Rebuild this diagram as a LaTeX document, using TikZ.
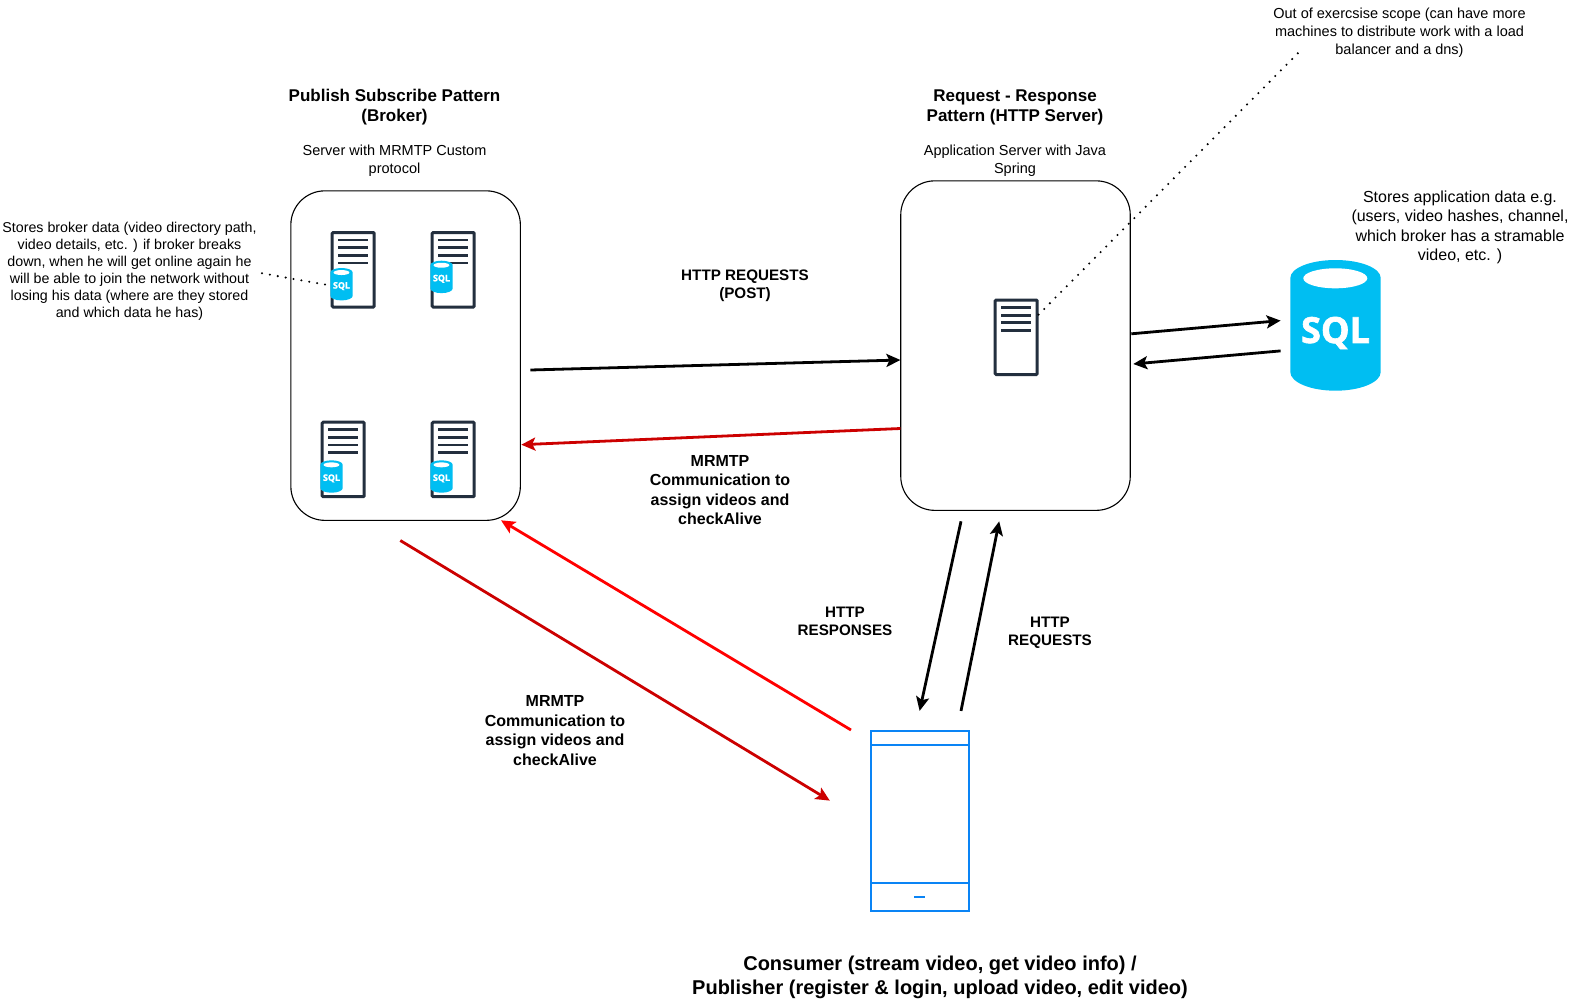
\documentclass[tikz,border=0pt]{standalone}
\usepackage{fontspec}
\setmainfont{Liberation Sans}
\newfontfamily\sqlfont[BoldFeatures={FakeBold=1.8}]{Open Sans}
\usetikzlibrary{arrows.meta}
\definecolor{srvcol}{HTML}{232F3E}
\definecolor{sqlcol}{HTML}{00BEF2}
\definecolor{phonecol}{HTML}{0A84F5}
\definecolor{darkred}{HTML}{CC0000}
\tikzset{
  panel/.style={draw=black,line width=1.1pt,rounded corners=34pt,minimum width=229.5pt,minimum height=329.5pt,inner sep=0pt},
  srvbody/.style={draw=srvcol,line width=3pt,rounded corners=1pt,fill=white,minimum width=42pt,minimum height=74.5pt,inner sep=0pt},
  srvline/.style={draw=srvcol,line width=2.7pt},
  phonepart/.style={draw=phonecol,line width=2.2pt},
  conn/.style={line width=2.8pt,-{Stealth[length=14pt,width=13pt,inset=3pt]}},
  noteline/.style={line width=2.3pt,line cap=round,dash pattern=on 0pt off 8pt},
  note/.style={align=center,inner sep=0pt,font=\fontsize{14.25}{16.9}\selectfont},
  notebig/.style={align=center,inner sep=0pt,font=\fontsize{16}{19.2}\selectfont},
  head/.style={align=center,inner sep=0pt,font=\bfseries\fontsize{17}{20}\selectfont},
  sublabel/.style={align=center,inner sep=0pt,font=\fontsize{14.5}{18}\selectfont},
  httplabel/.style={align=center,inner sep=0pt,font=\bfseries\fontsize{15.2}{18}\selectfont},
  mrmtp/.style={align=center,inner sep=0pt,font=\bfseries\fontsize{16}{19.4}\selectfont},
  title/.style={align=center,inner sep=0pt,font=\bfseries\fontsize{20}{24}\selectfont},
}
% server: name, left, top
\newcommand{\srvicon}[3]{%
  \node[srvbody,anchor=north west] (#1) at (#2-0.3,#3-1) {};
  \foreach \dy in {8,15.7,23.3,31} \draw[srvline] (#2+7,#3+\dy) -- (#2+36.7,#3+\dy);
}
% sql cylinder: name, left, top, scale
\newcommand{\sqlicon}[4]{%
  \begin{scope}[shift={(#2,#3)},scale=#4]
    \fill[sqlcol] (0,18) arc[x radius=45.2,y radius=18,start angle=180,end angle=360]
      -- (90.4,112) arc[x radius=45.2,y radius=18.7,start angle=0,end angle=180] -- cycle;
    \fill[white] (45,18.3) ellipse[x radius=32,y radius=10];
    \node[transform shape,inner sep=0pt,text=white,font=\sqlfont\bfseries\fontsize{36}{36}\selectfont] (#1) at (45.2,73) {SQL};
  \end{scope}
}
\begin{document}
\begin{tikzpicture}[x=1pt,y=-1pt]
\useasboundingbox (0,0) rectangle (1581,1001);
\fill[white] (0,0) rectangle (1581,1001);

\node[panel,anchor=north west] (broker) at (290.3,190.3) {};
\node[panel,anchor=north west] (app) at (900.2,180.3) {};

\srvicon{s1}{331}{232}
\srvicon{s2}{431}{232}
\srvicon{s3}{321}{421.7}
\srvicon{s4}{431}{421.7}
\srvicon{s5}{994}{299.5}

\sqlicon{q1}{330.3}{268}{0.248}
\sqlicon{q2}{430.3}{260.7}{0.248}
\sqlicon{q3}{320.3}{460.3}{0.248}
\sqlicon{q4}{430.3}{460.3}{0.248}
\sqlicon{bigsql}{1290.3}{260}{1}

% phone
\node[phonepart,anchor=north west,minimum width=98pt,minimum height=179.5pt,inner sep=0pt] (phone) at (870,730) {};
\draw[phonepart] (phone.west |- 0,744.7) -- (phone.east |- 0,744.7);
\draw[phonepart] (phone.west |- 0,883.3) -- (phone.east |- 0,883.3);
\draw[phonepart] (914.3,897) -- (925,897);

% connector ends
\coordinate (a1) at (530.4,370);
\coordinate (a2) at (900.4,360);
\coordinate (b1) at (900.4,428.5);
\coordinate (b2) at (521.3,444.7);
\coordinate (c1) at (400.3,540.5);
\coordinate (c2) at (829.8,800.6);
\coordinate (d1) at (851,730);
\coordinate (d2) at (501,520.3);
\coordinate (e1) at (961,521.3);
\coordinate (e2) at (919.6,710.9);
\coordinate (f1) at (961,710.9);
\coordinate (f2) at (999.2,521.3);
\coordinate (g1) at (1131.3,333.8);
\coordinate (g2) at (1280.6,320.6);
\coordinate (h1) at (1280.6,350.9);
\coordinate (h2) at (1133.3,364);
\coordinate (n1) at (262,273.3);
\coordinate (n2) at (329.7,285.4);
\coordinate (n3) at (1038.6,314.6);
\coordinate (n4) at (1300.7,50.4);

\draw[conn,black] (a1) -- (a2);
\draw[conn,darkred] (b1) -- (b2);
\draw[conn,darkred] (c1) -- (c2);
\draw[conn,red] (d1) -- (d2);
\draw[conn,black] (e1) -- (e2);
\draw[conn,black] (f1) -- (f2);
\draw[conn,black] (g1) -- (g2);
\draw[conn,black] (h1) -- (h2);
\draw[noteline] (n1) -- (n2);
\draw[noteline] (n3) -- (n4);

% labels
\node[head] (t1) at (394.5,107) {Publish Subscribe Pattern\\(Broker)};
\node[sublabel] (t2) at (394.5,160.3) {Server with MRMTP Custom\\protocol};
\node[head] (t3) at (1015,107) {Request - Response\\Pattern (HTTP Server)};
\node[sublabel] (t4) at (1015,160.3) {Application Server with Java\\Spring};
\node[sublabel] (t5) at (1399.5,33) {Out of exercsise scope (can have more\\machines to distribute work with a load\\balancer and a dns)};
\node[notebig] (t6) at (1460,227.3) {Stores application data e.g.\\(users, video hashes, channel,\\which broker has a stramable\\video, etc. )};
\node[note] (t7) at (129.5,271.3) {Stores broker data (video directory path,\\video details, etc. ) if broker breaks\\down, when he will get online again he\\will be able to join the network without\\losing his data (where are they stored\\and which data he has)};
\node[httplabel] (t8) at (745,286) {HTTP REQUESTS\\(POST)};
\node[mrmtp] (t9) at (720,490) {MRMTP\\Communication to\\assign videos and\\checkAlive};
\node[httplabel] (t10) at (845,621) {HTTP\\RESPONSES};
\node[httplabel] (t11) at (1050,633) {HTTP\\REQUESTS};
\node[mrmtp] (t12) at (555,730.5) {MRMTP\\Communication to\\assign videos and\\checkAlive};
\node[title] (t13) at (940,977.5) {Consumer (stream video, get video info) /\\Publisher (register \& login, upload video, edit video)};
\end{tikzpicture}
\end{document}
